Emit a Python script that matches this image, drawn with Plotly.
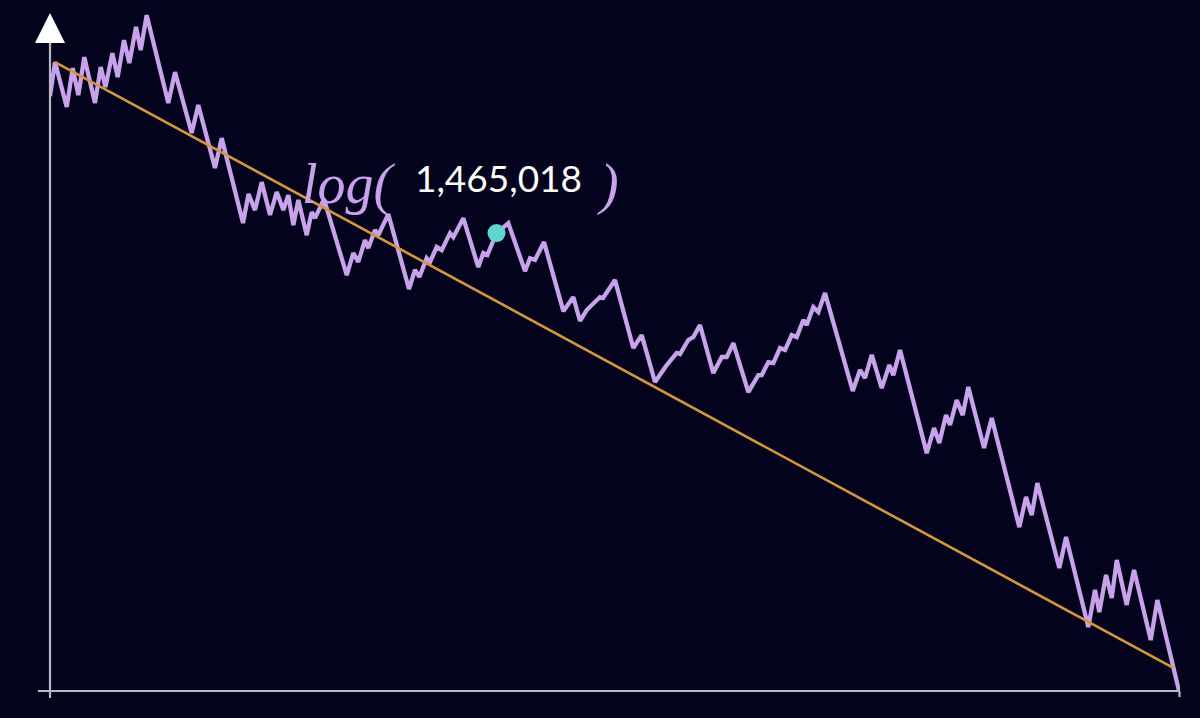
import plotly.graph_objects as go

# step index along the sequence and log2 of the value at that step
steps = [0, 0.91, 3.04, 4.13, 5.15, 6.24, 8.18, 9.22, 10.09, 11.33, 12.31, 13.45, 14.42, 15.64, 16.49, 17.58,
         21.51, 22.73, 25.76, 26.96, 30.0, 31.22, 35.09, 36.09, 37.27, 38.49, 40.0, 41.22, 42.42, 43.33,
         44.24, 45.15, 46.67, 47.58, 48.18, 49.82, 53.95, 55.15, 56.05, 57.27, 57.87, 59.09, 59.69, 61.51,
         65.27, 66.36, 67.15, 68.49, 69.09, 70.31, 71.22, 72.73, 73.33, 75.15, 77.87, 78.78, 79.51, 81.18,
         83.33, 86.36, 87.27, 88.18, 89.82, 93.33, 95.15, 96.36, 97.58, 100.0, 100.55, 102.73, 106.05,
         107.58, 110.0, 112.13, 113.95, 114.55, 116.05, 116.96, 118.18, 120.6, 122.13, 123.04, 124.24,
         126.96, 128.78, 129.4, 130.6, 131.51, 132.73, 133.64, 134.85, 135.76, 136.96, 137.58, 138.78,
         139.69, 140.91, 145.95, 147.27, 148.18, 149.4, 151.22, 152.6, 153.33, 154.55, 159.4, 160.73,
         161.69, 162.91, 163.64, 164.85, 165.95, 166.96, 169.82, 171.22, 176.24, 177.45, 178.49, 179.51,
         183.51, 184.73, 188.78, 190.0, 190.78, 192.0, 193.04, 193.95, 195.76, 197.09, 200.13, 201.33, 205.27]
log_values = [26.61, 28.13, 26.12, 27.86, 26.65, 28.35, 26.30, 27.91, 27.01, 28.53, 27.46, 29.11, 28.09, 29.70, 28.67, 30.23,
              26.30, 27.68, 24.96, 26.21, 23.39, 24.73, 20.93, 22.23, 21.51, 22.76, 21.29, 22.32, 21.51, 22.18,
              20.84, 21.96, 20.39, 21.42, 21.15, 22.00, 18.60, 19.59, 19.19, 20.17, 19.81, 20.62, 20.39, 21.33,
              17.98, 18.83, 18.52, 19.36, 19.19, 19.86, 19.72, 20.48, 20.30, 21.15, 18.96, 19.59, 19.50, 20.48,
              20.93, 18.78, 19.36, 19.28, 20.08, 16.99, 17.62, 16.55, 17.04, 17.62, 17.58, 18.38, 15.34,
              15.92, 13.82, 14.58, 15.12, 15.07, 15.70, 15.83, 16.37, 14.22, 14.94, 14.94, 15.56,
              13.37, 14.13, 14.13, 14.71, 14.67, 15.34, 15.25, 15.92, 15.83, 16.59, 16.37, 17.17,
              16.95, 17.80, 13.42, 14.36, 14.00, 15.03, 13.55, 14.58, 14.13, 15.25, 10.64, 11.76,
              11.09, 12.34, 11.90, 13.01, 12.34, 13.60, 10.87, 12.21, 7.33, 8.68, 7.87, 9.30,
              5.50, 6.89, 2.86, 4.52, 3.53, 5.19, 4.16, 5.86, 3.85, 5.41, 2.28, 4.07, 0.0]

# trend line end points
trend_steps = [0.91, 204.24]
trend_log = [28.13, 1.03]

# highlighted point
current_step = [81.18]
current_log = [20.48]
current_label = "1,465,018"

BG = "#03031d"
LAVENDER = "#c8a2ea"
ORANGE = "#d4963e"
AXIS = "#b9b9c6"
CYAN = "#5fd6d0"

fig = go.Figure()
fig.add_trace(go.Scatter(x=steps, y=log_values, mode="lines",
                         line=dict(color=LAVENDER, width=4.3), hoverinfo="skip"))
fig.add_trace(go.Scatter(x=trend_steps, y=trend_log, mode="lines",
                         line=dict(color=ORANGE, width=2.6), hoverinfo="skip"))
fig.add_trace(go.Scatter(x=current_step, y=current_log, mode="markers",
                         marker=dict(color=CYAN, size=18), hoverinfo="skip"))

W, H = 1200, 718
L, R, T, B = 50, 20, 10, 27
pw, ph = W - L - R, H - T - B

def px(x):
    return (x - L) / pw

def py(y):
    return (H - B - y) / ph

shapes = [
    dict(type="line", xref="paper", yref="paper", x0=px(38), x1=px(1180), y0=py(691), y1=py(691),
         line=dict(color=AXIS, width=2.2)),
    dict(type="line", xref="paper", yref="paper", x0=px(1179.5), x1=px(1179.5), y0=py(691), y1=py(697),
         line=dict(color=AXIS, width=2.2)),
    dict(type="line", xref="paper", yref="paper", x0=px(50), x1=px(50), y0=py(698), y1=py(42),
         line=dict(color=AXIS, width=2.2)),
    dict(type="path", xref="paper", yref="paper",
         path=f"M {px(50)} {py(13)} L {px(35)} {py(43)} L {px(65)} {py(43)} Z",
         fillcolor="white", line=dict(color="white", width=0)),
]

annotations = [
    dict(xref="paper", yref="paper", x=px(300), y=py(184), xanchor="left", yanchor="middle",
         text="<i>log(</i>", showarrow=False,
         font=dict(family="Liberation Serif", size=56, color=LAVENDER)),
    dict(xref="paper", yref="paper", x=px(413), y=py(177), xanchor="left", yanchor="middle",
         text=current_label, showarrow=False,
         font=dict(family="Lato", size=37, color="white")),
    dict(xref="paper", yref="paper", x=px(595), y=py(184), xanchor="left", yanchor="middle",
         text="<i>)</i>", showarrow=False,
         font=dict(family="Liberation Serif", size=56, color=LAVENDER)),
]

fig.update_layout(
    width=W, height=H,
    margin=dict(l=L, r=R, t=T, b=B),
    paper_bgcolor=BG, plot_bgcolor=BG,
    showlegend=False,
    xaxis=dict(range=[0, 205.45], visible=False, fixedrange=True),
    yaxis=dict(range=[0, 30.46], visible=False, fixedrange=True),
    shapes=shapes, annotations=annotations,
)
fig.write_html(
    "out.html",
    config={"displayModeBar": False},
    post_script="document.body.style.margin='0';document.body.style.background='" + BG + "';"
                "document.body.style.overflow='hidden';",
)
